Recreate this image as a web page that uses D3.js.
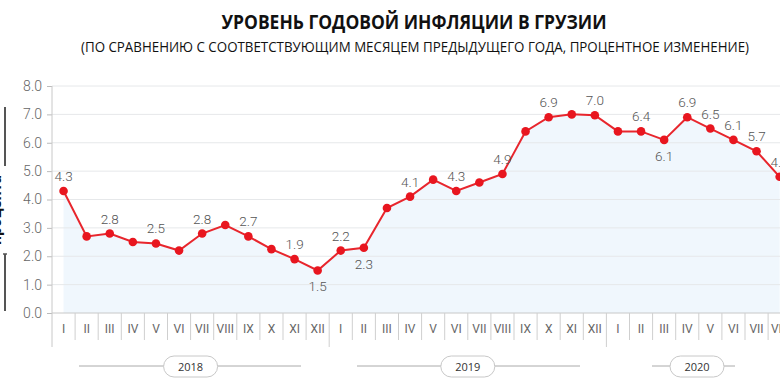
<!DOCTYPE html>
<html><head><meta charset="utf-8">
<script src="https://cdn.jsdelivr.net/npm/d3@7"></script>
<style>body{margin:0;background:#fff}svg{display:block}</style>
</head><body><svg id="c" width="780" height="390"></svg>
<script>
const months = ["I","II","III","IV","V","VI","VII","VIII","IX","X","XI","XII",
                "I","II","III","IV","V","VI","VII","VIII","IX","X","XI","XII",
                "I","II","III","IV","V","VI","VII","VIII"];
const years = ["2018","2019","2020"];
const yearMonths = [12,12,8];
const values = [4.3,2.7,2.8,2.5,2.45,2.2,2.8,3.1,2.7,2.25,1.9,1.5,
                2.2,2.3,3.7,4.1,4.7,4.3,4.6,4.9,6.4,6.9,7.0,6.97,
                6.4,6.4,6.1,6.9,6.5,6.1,5.7,4.8];
const labels = ["4.3","","2.8","","2.5","","2.8","","2.7","","1.9","1.5",
                "2.2","2.3","","4.1","","4.3","","4.9","","6.9","","7.0",
                "","6.4","6.1","6.9","6.5","6.1","5.7","4.8"];
const labelSide = ["a","","a","","a","","a","","a","","a","b",
                   "a","b","","a","","a","","a","","a","","a",
                   "","a","b","a","a","a","a","a"];
const yTicks = [0,1,2,3,4,5,6,7,8];
const title = "УРОВЕНЬ ГОДОВОЙ ИНФЛЯЦИИ В ГРУЗИИ";
const subtitle = "(ПО СРАВНЕНИЮ С СООТВЕТСТВУЮЩИМ МЕСЯЦЕМ ПРЕДЫДУЩЕГО ГОДА, ПРОЦЕНТНОЕ ИЗМЕНЕНИЕ)";
const yLabel = "процента";

const svg = d3.select("#c");
const x0 = 52, bw = 23.1;
const x = d3.scaleBand().domain(d3.range(months.length)).range([x0, x0 + bw*months.length]).paddingInner(0).paddingOuter(0);
const y = d3.scaleLinear().domain([0,8]).range([313,86]);
const cx = i => x(i) + x.bandwidth()/2;
const font = "Roboto, 'Noto Sans', sans-serif";
const narrow = "'Liberation Sans Narrow', 'Open Sans', sans-serif";

// title
svg.append("text").attr("x",414).attr("y",29).attr("text-anchor","middle")
  .attr("font-family",narrow).attr("font-weight","bold").attr("font-size",19)
  .attr("textLength",385).attr("lengthAdjust","spacingAndGlyphs").attr("fill","#111").text(title);
svg.append("text").attr("x",415).attr("y",52).attr("text-anchor","middle")
  .attr("font-family",narrow).attr("font-size",14)
  .attr("textLength",668).attr("lengthAdjust","spacingAndGlyphs").attr("fill","#111").text(subtitle);

// area
const area = d3.area().x((d,i)=>cx(i)).y0(y(0)).y1(d=>y(d));
svg.append("path").datum(values).attr("d",area).attr("fill","#f0f7fd");

// gridlines
svg.append("g").selectAll("line").data(yTicks).join("line")
  .attr("x1",x0).attr("x2",780).attr("y1",d=>y(d)).attr("y2",d=>y(d))
  .attr("stroke",d=>d===0?"#c8c8c8":"#e6e8ea").attr("stroke-width",1);

// y axis
const yAxis = d3.axisLeft(y).tickValues(yTicks).tickFormat(d3.format(".1f")).tickSize(5).tickPadding(5);
const ga = svg.append("g").attr("transform",`translate(${x0},0)`).call(yAxis);
ga.select(".domain").remove();
ga.selectAll(".tick line").attr("stroke","#bbb");
ga.selectAll(".tick text").attr("font-family",font).attr("font-size",14).attr("fill","#666").attr("font-weight",300);
svg.append("line").attr("x1",x0).attr("x2",x0).attr("y1",86).attr("y2",347).attr("stroke","#c8c8c8");

// month separators and labels
const yearStarts = [0,12,24];
svg.append("g").selectAll("line").data(d3.range(1,months.length+1)).join("line")
  .attr("x1",i=>x0+bw*i).attr("x2",i=>x0+bw*i).attr("y1",313)
  .attr("y2",i=>yearStarts.includes(i)?347:340).attr("stroke","#cfcfcf");
svg.append("g").selectAll("text").data(months).join("text")
  .attr("x",(d,i)=>cx(i)).attr("y",333).attr("text-anchor","middle")
  .attr("font-family",font).attr("font-size",12).attr("fill","#666").text(d=>d);

// year pills
const yLines = [[79,301],[357,580],[652,735]];
let start = 0;
years.forEach((yr,k)=>{
  const a = x0 + bw*start, b = x0 + bw*(start+yearMonths[k]);
  const c = k===2 ? 697 : (a+b)/2;
  start += yearMonths[k];
  const g = svg.append("g");
  g.append("line").attr("x1",yLines[k][0]).attr("x2",yLines[k][1]).attr("y1",366).attr("y2",366).attr("stroke","#aaa");
  g.append("rect").attr("x",c-27).attr("y",356).attr("width",54).attr("height",21).attr("rx",10.5)
    .attr("fill","#fff").attr("stroke","#c8c8c8");
  g.append("text").attr("x",c).attr("y",370.5).attr("text-anchor","middle")
    .attr("font-family","'Open Sans', sans-serif").attr("font-size",11).attr("fill","#333").text(yr);
});

// line and dots
const line = d3.line().x((d,i)=>cx(i)).y(d=>y(d));
svg.append("path").datum(values).attr("d",line).attr("fill","none").attr("stroke","#e8262d").attr("stroke-width",2);
svg.append("g").selectAll("circle").data(values).join("circle")
  .attr("cx",(d,i)=>cx(i)).attr("cy",d=>y(d)).attr("r",4.3).attr("fill","#e8161f");

// value labels
svg.append("g").selectAll("text").data(values).join("text")
  .attr("x",(d,i)=>cx(i)).attr("y",(d,i)=>labelSide[i]==="b"? y(d)+21 : y(d)-10)
  .attr("text-anchor","middle").attr("font-family",font).attr("font-size",13.5).attr("font-weight",300)
  .attr("fill","#555").text((d,i)=>labels[i]);

// left rotated label with bracket
svg.append("line").attr("x1",5).attr("x2",5).attr("y1",107).attr("y2",166).attr("stroke","#555").attr("stroke-width",2);
svg.append("line").attr("x1",5).attr("x2",5).attr("y1",254).attr("y2",311).attr("stroke","#555").attr("stroke-width",2);
svg.append("line").attr("x1",3).attr("x2",7).attr("y1",254).attr("y2",254).attr("stroke","#555").attr("stroke-width",1.5);
svg.append("text").attr("transform","translate(1,210) rotate(-90)").attr("text-anchor","middle")
  .attr("font-family","'Open Sans', sans-serif").attr("font-weight","bold").attr("font-size",14).attr("fill","#111").text(yLabel);
</script></body></html>
